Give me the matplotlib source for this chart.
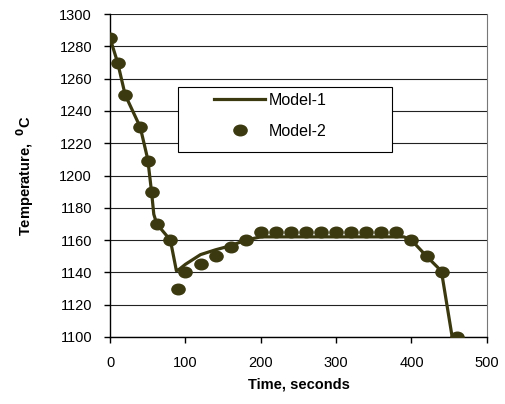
import numpy as np
import matplotlib
matplotlib.use('Agg')
import matplotlib.pyplot as plt
from matplotlib.path import Path
from matplotlib.patches import Rectangle
from matplotlib.transforms import Affine2D

plt.rcParams['font.family'] = ['Liberation Sans', 'DejaVu Sans']

# Model-1 (line)
t_model1 = [0, 10, 20, 40, 50, 55, 58, 62, 80, 88, 92, 100, 120, 140, 160, 180, 200,
            250, 300, 350, 390, 400, 420, 435, 440, 454]
T_model1 = [1285, 1270, 1250, 1230, 1210, 1190, 1176, 1170, 1160, 1141, 1142, 1145,
            1151, 1154, 1156.5, 1160, 1162, 1162, 1162, 1162, 1162, 1160, 1150, 1143, 1140, 1100]

# Model-2 (dots)
t_model2 = [0, 10, 20, 40, 50, 55, 62, 80, 90, 100, 120, 140, 160, 180,
            200, 220, 240, 260, 280, 300, 320, 340, 360, 380, 400, 420, 440, 460]
T_model2 = [1285, 1270, 1250, 1230, 1209, 1190, 1170, 1160, 1130, 1140, 1145, 1150, 1155.5, 1160,
            1165, 1165, 1165, 1165, 1165, 1165, 1165, 1165, 1165, 1165, 1160, 1150, 1140, 1100]

x_ticks = [0, 100, 200, 300, 400, 500]
y_ticks = [1100, 1120, 1140, 1160, 1180, 1200, 1220, 1240, 1260, 1280, 1300]

color = '#3b3910'

# flattened ellipse marker like the original
ellipse = Path.unit_circle().transformed(Affine2D().scale(1.25, 1.0))

fig = plt.figure(figsize=(5.05, 4.04), dpi=100)
ax = fig.add_axes([0.218, 0.166, 0.746, 0.799])

ax.plot(t_model1, T_model1, color=color, lw=2.3, label='Model-1', zorder=3)
ax.plot(t_model2, T_model2, ls='none', marker=ellipse, ms=9.5, color=color,
        label='Model-2', zorder=4)

ax.set_xlim(0, 500)
ax.set_ylim(1100, 1300)
ax.set_xticks(x_ticks)
ax.set_yticks(y_ticks)
ax.yaxis.grid(True, color='#222222', lw=0.8)
ax.set_axisbelow(True)

ax.spines['top'].set_visible(False)
ax.spines['right'].set_color('#777777')
ax.spines['left'].set_linewidth(1.0)
ax.spines['bottom'].set_linewidth(1.0)
ax.tick_params(direction='out', length=4, width=1, labelsize=10.5)
ax.tick_params(axis='y', pad=9)
ax.tick_params(axis='x', pad=10)

ax.set_xlabel('Time, seconds', fontsize=10.5, fontweight='bold', labelpad=5)
ax.set_ylabel('Temperature,  $^{\\mathbf{0}}$C', fontsize=10.5, fontweight='bold', labelpad=17)

# legend box
box = Rectangle((0.180, 0.573), 0.568, 0.201, transform=ax.transAxes,
                facecolor='white', edgecolor='black', lw=0.8, zorder=5)
ax.add_patch(box)
leg = ax.legend(loc='upper left', bbox_to_anchor=(0.276, 0.756), fontsize=11.5,
                frameon=False, borderpad=0, borderaxespad=0,
                handlelength=3.2, labelspacing=0.98, handletextpad=0.2)
leg.set_zorder(6)

fig.savefig('out.png', dpi=100)
